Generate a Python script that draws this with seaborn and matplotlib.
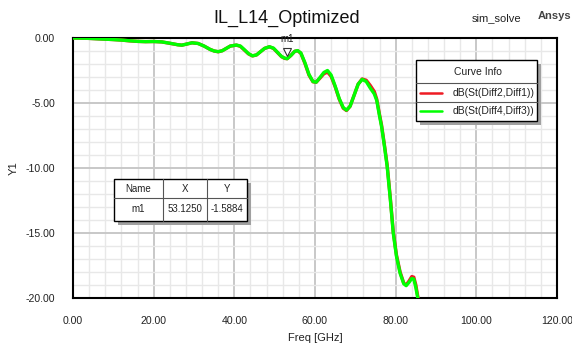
import matplotlib
matplotlib.use("Agg")
import matplotlib.pyplot as plt
import matplotlib.transforms as mtransforms
from matplotlib.patches import Rectangle
from matplotlib.lines import Line2D
from matplotlib.ticker import MultipleLocator, FormatStrFormatter
import seaborn as sns
import pandas as pd

# ---------------- data ----------------
freq_ghz = [0, 2, 4, 6, 8, 10, 12, 14, 16, 18, 20, 22, 24, 26, 27, 28, 29.5, 31,
            32.5, 34, 35, 36, 37, 38, 39, 40.5, 41.5, 42.5, 43.5, 44.5, 45.5, 46.5,
            47.5, 48.7, 49.7, 50.7, 51.7, 52.5, 53.1, 54, 55, 55.7, 56.5, 57.5,
            58.5, 59.5, 60.3, 61.2, 62.2, 63.1, 64, 65, 66, 67, 67.8, 68.7, 69.7,
            70.7, 71.7, 72.7, 73.7, 74.7, 75.3, 76, 76.5, 77.2, 77.9, 78.7, 79.4,
            80.2, 81.1, 82, 82.6, 83.3, 84.0, 84.5, 85.0, 85.6, 86]

db_diff4_diff3 = [0.0, -0.01, -0.03, -0.06, -0.09, -0.12, -0.16, -0.21, -0.26, -0.28,
                  -0.27, -0.30, -0.40, -0.52, -0.55, -0.48, -0.37, -0.42, -0.62, -0.88,
                  -1.00, -1.05, -0.98, -0.80, -0.62, -0.54, -0.62, -0.90, -1.20, -1.37,
                  -1.30, -1.05, -0.80, -0.67, -0.78, -1.10, -1.42, -1.55, -1.59, -1.35,
                  -1.02, -0.97, -1.15, -1.90, -2.80, -3.35, -3.40, -3.05, -2.65, -2.50,
                  -2.85, -3.70, -4.65, -5.35, -5.55, -5.25, -4.40, -3.55, -3.18, -3.35,
                  -3.85, -4.30, -4.80, -6.0, -6.8, -8.3, -9.9, -12.5, -15.0, -16.8,
                  -18.1, -18.9, -19.05, -18.8, -18.5, -18.55, -19.2, -20.2, -20.6]

db_diff2_diff1 = [0.0, -0.01, -0.03, -0.06, -0.09, -0.12, -0.16, -0.22, -0.26, -0.28,
                  -0.27, -0.30, -0.41, -0.52, -0.55, -0.48, -0.37, -0.42, -0.62, -0.88,
                  -1.00, -1.06, -0.98, -0.80, -0.62, -0.55, -0.64, -0.93, -1.22, -1.38,
                  -1.30, -1.05, -0.80, -0.68, -0.80, -1.12, -1.44, -1.57, -1.59, -1.35,
                  -1.02, -0.98, -1.18, -1.95, -2.85, -3.37, -3.40, -3.10, -2.75, -2.62,
                  -2.95, -3.75, -4.70, -5.40, -5.58, -5.25, -4.40, -3.55, -3.15, -3.25,
                  -3.65, -4.12, -4.70, -5.9, -6.7, -8.2, -9.8, -12.4, -14.9, -16.7,
                  -18.0, -18.85, -19.0, -18.7, -18.35, -18.4, -19.0, -20.1, -20.6]

series_names = ["dB(St(Diff2,Diff1))", "dB(St(Diff4,Diff3))"]
series_colors = ["#ee1c24", "#00ff00"]

marker_name = "m1"
marker_x = 53.1250
marker_y = -1.5884

x_ticks = [0, 20, 40, 60, 80, 100, 120]
y_ticks = [0, -5, -10, -15, -20]

# ---------------- figure ----------------
W, H = 572, 344
sns.set_style("white")
plt.rcParams["font.family"] = ["Liberation Sans", "DejaVu Sans"]

fig = plt.figure(figsize=(W / 100, H / 100), dpi=100)


def fx(px):
    return px / W


def fy(py):
    return 1 - py / H


ax = fig.add_axes([fx(73), fy(298), fx(557) - fx(73), fy(38) - fy(298)])

df = pd.concat([
    pd.DataFrame({"Freq": freq_ghz, "dB": db_diff2_diff1, "Curve": series_names[0]}),
    pd.DataFrame({"Freq": freq_ghz, "dB": db_diff4_diff3, "Curve": series_names[1]}),
])
sns.lineplot(data=df, x="Freq", y="dB", hue="Curve", palette=series_colors,
             hue_order=series_names, linewidth=2.4, ax=ax, legend=False,
             sort=False, estimator=None, zorder=3)

ax.set_xlim(0, 120)
ax.set_ylim(-20, 0)
ax.set_xticks(x_ticks)
ax.set_yticks(y_ticks)
ax.xaxis.set_minor_locator(MultipleLocator(4))
ax.yaxis.set_minor_locator(MultipleLocator(1))
ax.xaxis.set_major_formatter(FormatStrFormatter("%.2f"))
ax.yaxis.set_major_formatter(FormatStrFormatter("%.2f"))

ax.grid(which="major", color="#c8c8c8", linewidth=1.4, zorder=0)
ax.grid(which="minor", color="#e8e8e8", linewidth=1.0, zorder=0)
ax.set_axisbelow(True)
for s in ax.spines.values():
    s.set_visible(True)
    s.set_color("black")
    s.set_linewidth(1.5)

ax.tick_params(which="major", direction="out", length=7, width=1.2, color="black",
               labelsize=7.6, labelcolor="#222222", pad=6)
ax.tick_params(which="minor", direction="inout", length=6, width=1.0, color="black")

ax.set_xlabel("Freq [GHz]", fontsize=8, color="#222222", labelpad=5)
ax.set_ylabel("Y1", fontsize=8, color="#222222", labelpad=5)

# title texts
fig.text(fx(287), fy(18), "IL_L14_Optimized", fontsize=13, ha="center", va="center",
         color="#111111")
fig.text(fx(497), fy(18), "sim_solve", fontsize=8, ha="center", va="center",
         color="#222222")
fig.text(fx(538), fy(16), "Ansys", fontsize=8, fontweight="bold", ha="left",
         va="center", color="#444444")

# marker m1
off = mtransforms.offset_copy(ax.transData, fig=fig, x=0, y=5, units="points")
ax.plot([marker_x], [marker_y], marker="v", markersize=6, markerfacecolor="white",
        markeredgecolor="#333333", markeredgewidth=0.8, linestyle="none",
        transform=off, zorder=5)
ax.annotate(marker_name, xy=(marker_x, marker_y), xytext=(0, 14),
            textcoords="offset points", ha="center", va="center", fontsize=7,
            color="#222222", zorder=5)

# ---------------- Curve Info box ----------------
sh = 4
bx0, bx1, by0, by1 = 416, 537, 60, 121
fig.add_artist(Rectangle((fx(bx0 + sh), fy(by1 + sh)), fx(bx1) - fx(bx0),
                         fy(by0) - fy(by1), transform=fig.transFigure,
                         facecolor="#a0a0a0", edgecolor="none", zorder=6))
fig.add_artist(Rectangle((fx(bx0), fy(by1)), fx(bx1) - fx(bx0), fy(by0) - fy(by1),
                         transform=fig.transFigure, facecolor="white",
                         edgecolor="black", linewidth=1.0, zorder=7))
for sy in (83, 102):
    fig.add_artist(Line2D([fx(bx0), fx(bx1)], [fy(sy), fy(sy)],
                          transform=fig.transFigure, color="#555555",
                          linewidth=0.8, zorder=8))
fig.text(fx(478), fy(72), "Curve Info", fontsize=7.5, ha="center", va="center",
         color="#222222", zorder=9)
for name, col, ry in zip(series_names, series_colors, (93, 111)):
    fig.add_artist(Line2D([fx(420), fx(442)], [fy(ry), fy(ry)],
                          transform=fig.transFigure, color=col, linewidth=1.8,
                          zorder=9))
    fig.text(fx(453), fy(ry), name, fontsize=7.5, ha="left", va="center",
             color="#222222", zorder=9)

# ---------------- marker table ----------------
tx = [114, 163, 207, 247]
ty = [179, 198, 221]
fig.add_artist(Rectangle((fx(tx[0] + sh), fy(ty[2] + sh)), fx(tx[3]) - fx(tx[0]),
                         fy(ty[0]) - fy(ty[2]), transform=fig.transFigure,
                         facecolor="#a0a0a0", edgecolor="none", zorder=6))
fig.add_artist(Rectangle((fx(tx[0]), fy(ty[2])), fx(tx[3]) - fx(tx[0]),
                         fy(ty[0]) - fy(ty[2]), transform=fig.transFigure,
                         facecolor="white", edgecolor="black", linewidth=1.0,
                         zorder=7))
fig.add_artist(Line2D([fx(tx[0]), fx(tx[3])], [fy(ty[1]), fy(ty[1])],
                      transform=fig.transFigure, color="#555555", linewidth=0.8,
                      zorder=8))
for vx in tx[1:3]:
    fig.add_artist(Line2D([fx(vx), fx(vx)], [fy(ty[0]), fy(ty[2])],
                          transform=fig.transFigure, color="#555555",
                          linewidth=0.8, zorder=8))
header = ["Name", "X", "Y"]
row = [marker_name, f"{marker_x:.4f}", f"{marker_y:.4f}"]
for i in range(3):
    cx = (tx[i] + tx[i + 1]) / 2
    fig.text(fx(cx), fy((ty[0] + ty[1]) / 2), header[i], fontsize=7, ha="center",
             va="center", color="#222222", zorder=9)
    fig.text(fx(cx), fy((ty[1] + ty[2]) / 2), row[i], fontsize=7, ha="center",
             va="center", color="#222222", zorder=9)

fig.savefig("out.png", dpi=100)
